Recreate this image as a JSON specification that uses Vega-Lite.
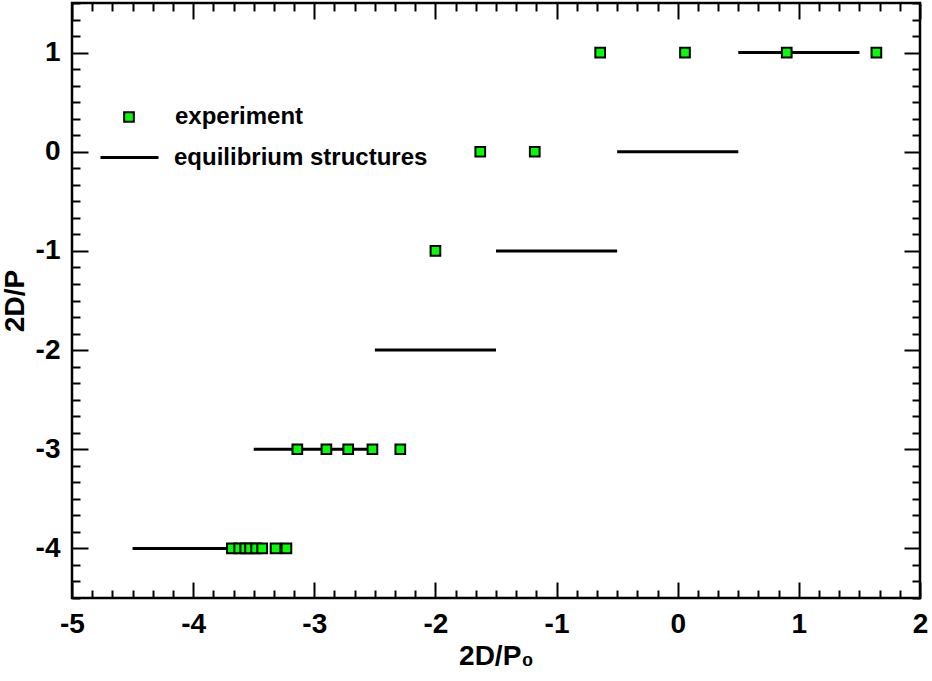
{
  "$schema": "https://vega.github.io/schema/vega-lite/v6.json",
  "width": 848,
  "height": 595,
  "autosize": {"type": "none"},
  "padding": {"left": 72, "top": 3, "right": 12, "bottom": 83},
  "background": "white",
  "config": {
    "view": {"stroke": "black", "strokeWidth": 2.5},
    "font": "Liberation Sans",
    "axis": {
      "domain": false,
      "grid": false,
      "labelFont": "Liberation Sans",
      "labelFontWeight": "bold",
      "labelFontSize": 28,
      "labelColor": "black",
      "titleFont": "Liberation Sans",
      "titleFontWeight": "bold",
      "titleFontSize": 28,
      "titleColor": "black",
      "tickColor": "black",
      "tickWidth": 2
    },
    "legend": {
      "labelFont": "Liberation Sans",
      "labelFontWeight": "bold",
      "labelFontSize": 24,
      "labelColor": "black",
      "labelLimit": 0,
      "padding": 0
    }
  },
  "datasets": {
    "experiment": [
      {"x": -3.68, "y": -4}, {"x": -3.62, "y": -4}, {"x": -3.57, "y": -4}, {"x": -3.53, "y": -4},
      {"x": -3.48, "y": -4}, {"x": -3.43, "y": -4}, {"x": -3.32, "y": -4}, {"x": -3.23, "y": -4},
      {"x": -3.14, "y": -3}, {"x": -2.9, "y": -3}, {"x": -2.72, "y": -3}, {"x": -2.52, "y": -3}, {"x": -2.29, "y": -3},
      {"x": -2.0, "y": -1},
      {"x": -1.63, "y": 0}, {"x": -1.18, "y": 0},
      {"x": -0.64, "y": 1}, {"x": 0.06, "y": 1}, {"x": 0.9, "y": 1}, {"x": 1.64, "y": 1}
    ],
    "structures": [
      {"x1": -4.5, "x2": -3.5, "y": -4},
      {"x1": -3.5, "x2": -2.5, "y": -3},
      {"x1": -2.5, "x2": -1.5, "y": -2},
      {"x1": -1.5, "x2": -0.5, "y": -1},
      {"x1": -0.5, "x2": 0.5, "y": 0},
      {"x1": 0.5, "x2": 1.5, "y": 1}
    ]
  },
  "resolve": {"axis": {"x": "independent", "y": "independent"}},
  "layer": [
    {
      "data": {"name": "structures"},
      "mark": {"type": "rule", "opacity": 0},
      "encoding": {
        "x": {"field": "x1", "type": "quantitative", "scale": {"domain": [-5, 2], "nice": false, "zero": false},
          "axis": {"orient": "bottom", "title": null, "labels": false, "tickSize": -8,
            "values": [-4.8333,-4.6667,-4.5,-4.3333,-4.1667,-3.8333,-3.6667,-3.5,-3.3333,-3.1667,-2.8333,-2.6667,-2.5,-2.3333,-2.1667,-1.8333,-1.6667,-1.5,-1.3333,-1.1667,-0.8333,-0.6667,-0.5,-0.3333,-0.1667,0.1667,0.3333,0.5,0.6667,0.8333,1.1667,1.3333,1.5,1.6667,1.8333]}},
        "x2": {"field": "x2"},
        "y": {"field": "y", "type": "quantitative", "scale": {"domain": [-4.5, 1.5], "nice": false, "zero": false},
          "axis": {"orient": "left", "title": null, "labels": false, "tickSize": -8,
            "values": [-4.5,-4.3333,-4.1667,-3.8333,-3.6667,-3.5,-3.3333,-3.1667,-2.8333,-2.6667,-2.5,-2.3333,-2.1667,-1.8333,-1.6667,-1.5,-1.3333,-1.1667,-0.8333,-0.6667,-0.5,-0.3333,-0.1667,0.1667,0.3333,0.5,0.6667,0.8333,1.1667,1.3333,1.5]}}
      }
    },
    {
      "data": {"name": "structures"},
      "mark": {"type": "rule", "opacity": 0},
      "encoding": {
        "x": {"field": "x1", "type": "quantitative",
          "axis": {"orient": "top", "title": null, "labels": false, "tickSize": -8,
            "values": [-4.8333,-4.6667,-4.5,-4.3333,-4.1667,-3.8333,-3.6667,-3.5,-3.3333,-3.1667,-2.8333,-2.6667,-2.5,-2.3333,-2.1667,-1.8333,-1.6667,-1.5,-1.3333,-1.1667,-0.8333,-0.6667,-0.5,-0.3333,-0.1667,0.1667,0.3333,0.5,0.6667,0.8333,1.1667,1.3333,1.5,1.6667,1.8333]}},
        "x2": {"field": "x2"},
        "y": {"field": "y", "type": "quantitative",
          "axis": {"orient": "right", "title": null, "labels": false, "tickSize": -8,
            "values": [-4.5,-4.3333,-4.1667,-3.8333,-3.6667,-3.5,-3.3333,-3.1667,-2.8333,-2.6667,-2.5,-2.3333,-2.1667,-1.8333,-1.6667,-1.5,-1.3333,-1.1667,-0.8333,-0.6667,-0.5,-0.3333,-0.1667,0.1667,0.3333,0.5,0.6667,0.8333,1.1667,1.3333,1.5]}}
      }
    },
    {
      "data": {"name": "structures"},
      "mark": {"type": "rule", "strokeWidth": 3, "strokeCap": "butt"},
      "encoding": {
        "x": {"field": "x1", "type": "quantitative",
          "axis": {"orient": "bottom", "title": "2D/P₀", "values": [-5,-4,-3,-2,-1,0,1,2],
            "labelExpr": "'' + datum.value", "tickSize": -16,
            "labelPadding": 28, "labelFlush": false, "labelOverlap": false, "titlePadding": 4}},
        "x2": {"field": "x2"},
        "y": {"field": "y", "type": "quantitative",
          "axis": {"orient": "left", "title": "2D/P", "values": [-4,-3,-2,-1,0,1],
            "labelExpr": "'' + datum.value", "tickSize": -16,
            "labelPadding": 28, "labelFlush": false, "labelOverlap": false, "titlePadding": 6}},
        "stroke": {"datum": "equilibrium structures", "type": "nominal",
          "scale": {"range": ["black"]},
          "legend": {"title": null, "orient": "none", "legendX": 27, "legendY": 124, "symbolType": "stroke", "symbolSize": 3364, "symbolStrokeWidth": 3, "labelOffset": 14}}
      }
    },
    {
      "data": {"name": "experiment"},
      "mark": {"type": "point", "shape": "square", "filled": true, "size": 94, "stroke": "black", "strokeWidth": 2, "opacity": 1},
      "encoding": {
        "x": {"field": "x", "type": "quantitative",
          "axis": {"orient": "top", "title": null, "labels": false, "tickSize": -16, "values": [-5,-4,-3,-2,-1,0,1,2]}},
        "y": {"field": "y", "type": "quantitative",
          "axis": {"orient": "right", "title": null, "labels": false, "tickSize": -16, "values": [-4,-3,-2,-1,0,1]}},
        "fill": {"datum": "experiment", "type": "nominal",
          "scale": {"range": ["#00ff00"]},
          "legend": {"title": null, "orient": "none", "legendX": 45, "legendY": 102, "symbolType": "square", "symbolSize": 94, "symbolStrokeColor": "black", "symbolStrokeWidth": 2, "symbolFillColor": "#00ff00", "labelOffset": 34}}
      }
    }
  ]
}
